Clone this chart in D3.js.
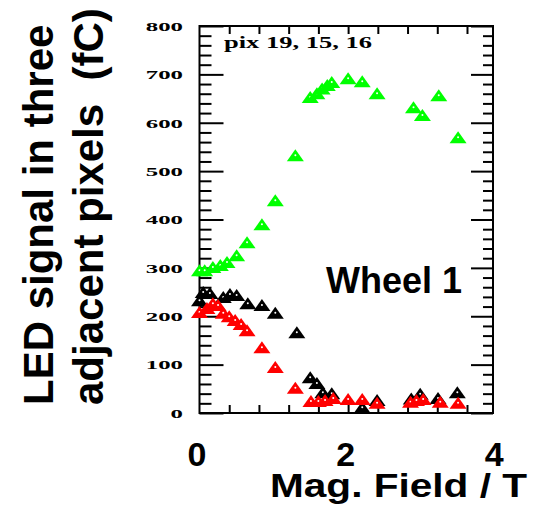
<!DOCTYPE html>
<html>
<head>
<meta charset="utf-8">
<script src="https://cdn.jsdelivr.net/npm/d3@7"></script>
<style>
  body { margin: 0; background: #fff; }
  svg { display: block; }
</style>
</head>
<body>
<script>
// data (field in T, signal in fC)
var greenField = [0.0, 0.07, 0.18, 0.28, 0.37, 0.5, 0.64, 0.84, 1.02, 1.29, 1.49, 1.58, 1.65, 1.72, 1.78, 2.0, 2.19, 2.39, 2.88, 3.0, 3.22, 3.48];
var greenSignal = [295, 295, 302, 306, 312, 326, 353, 390, 440, 533, 653, 661, 671, 678, 684, 692, 686, 661, 632, 616, 657, 570];

var blackField = [0.0, 0.05, 0.14, 0.32, 0.41, 0.5, 0.65, 0.84, 1.02, 1.31, 1.49, 1.58, 1.66, 1.78, 2.19, 2.39, 2.85, 2.97, 3.21, 3.47];
var blackSignal = [233, 250, 248, 240, 246, 244, 227, 223, 207, 167, 74, 62, 43, 41, 12, 27, 30, 40, 31, 43];

var redField = [0.0, 0.1, 0.18, 0.25, 0.32, 0.4, 0.48, 0.56, 0.64, 0.84, 1.02, 1.29, 1.5, 1.6, 1.69, 1.8, 2.0, 2.19, 2.39, 2.84, 2.92, 3.01, 3.24, 3.48];
var redSignal = [209, 217, 227, 223, 207, 200, 192, 184, 171, 136, 95, 52, 25, 25, 27, 31, 29, 29, 21, 23, 27, 29, 23, 21];

var yMajor = [0, 100, 200, 300, 400, 500, 600, 700, 800];
var xFrameTicks = [0.4, 0.8, 1.2, 1.6, 2.0, 2.4, 2.8, 3.2, 3.6];
var xLabels = [0, 2, 4];

// set the dimensions of the frame
var width = 535, height = 506;
var frame = {left: 199.5, right: 493, top: 26, bottom: 413};

var x = d3.scaleLinear().domain([0, 3.95]).range([frame.left, frame.right]);
var y = d3.scaleLinear().domain([0, 800]).range([frame.bottom, frame.top]);

var svg = d3.select("body").append("svg")
    .attr("width", width)
    .attr("height", height);

// minor y ticks every 20
var yMinor = d3.range(0, 801, 20).filter(function(d) { return d % 100 !== 0; });

function noDomain(g) { g.select(".domain").remove(); }

svg.append("g")
    .attr("transform", "translate(" + frame.left + ",0)")
    .call(d3.axisLeft(y).tickValues(yMinor).tickSize(-12).tickFormat(""))
    .call(noDomain);
svg.append("g")
    .attr("class", "ylab")
    .attr("transform", "translate(" + frame.left + ",0)")
    .call(d3.axisLeft(y).tickValues(yMajor).tickSize(-24).tickPadding(16.5))
    .call(noDomain);
svg.append("g")
    .attr("transform", "translate(" + frame.right + ",0)")
    .call(d3.axisRight(y).tickValues(yMinor).tickSize(-10).tickFormat(""))
    .call(noDomain);
svg.append("g")
    .attr("transform", "translate(" + frame.right + ",0)")
    .call(d3.axisRight(y).tickValues(yMajor).tickSize(-22).tickFormat(""))
    .call(noDomain);

// top and bottom ticks
svg.append("g")
    .attr("transform", "translate(0," + frame.top + ")")
    .call(d3.axisTop(x).tickValues(xFrameTicks).tickSize(-8).tickFormat(""))
    .call(noDomain);
svg.append("g")
    .attr("transform", "translate(0," + frame.bottom + ")")
    .call(d3.axisBottom(x).tickValues(xFrameTicks).tickSize(-8).tickFormat(""))
    .call(noDomain);

svg.selectAll(".tick line")
    .attr("stroke", "#000")
    .attr("stroke-width", 2);

// y tick labels: wide bold serif
svg.selectAll(".ylab .tick text")
    .attr("font-family", "Liberation Serif, serif")
    .attr("font-weight", "bold")
    .attr("font-size", 13.5)
    .attr("fill", "#000")
    .attr("textLength", function(d) { return 12.4 * String(d).length; })
    .attr("lengthAdjust", "spacingAndGlyphs");

// frame
svg.append("rect")
    .attr("x", frame.left)
    .attr("y", frame.top)
    .attr("width", frame.right - frame.left)
    .attr("height", frame.bottom - frame.top)
    .attr("fill", "none")
    .attr("stroke", "#000")
    .attr("stroke-width", 2);

// big x tick labels
var xl = svg.append("g")
    .attr("transform", "translate(-3," + 431 + ")")
    .call(d3.axisBottom(x).tickValues(xLabels).tickSize(0).tickPadding(0).tickFormat(d3.format("d")))
    .call(noDomain);
xl.selectAll("text")
    .attr("dy", null)
    .attr("y", 35)
    .attr("font-family", "Liberation Sans, Arial, sans-serif")
    .attr("font-weight", "bold")
    .attr("font-size", 34)
    .attr("fill", "#000");

// triangle markers
var tri = "M0,-6L8.5,6L-8.5,6Z";
function drawSeries(xs, ys, color) {
  var pts = xs.map(function(v, i) { return {f: v, s: ys[i]}; });
  var g = svg.append("g");
  var m = g.selectAll("g").data(pts).enter().append("g")
      .attr("transform", function(d) { return "translate(" + x(d.f) + "," + y(d.s) + ")"; });
  m.append("path").attr("d", tri).attr("fill", color);
  m.append("circle").attr("cy", 0).attr("r", 1).attr("fill", "#fff");
}
drawSeries(greenField, greenSignal, "#00ff00");
drawSeries(blackField, blackSignal, "#000000");
drawSeries(redField, redSignal, "#ff0000");

// labels
svg.append("text")
    .attr("x", 224).attr("y", 48)
    .attr("font-family", "Liberation Serif, serif")
    .attr("font-weight", "bold")
    .attr("font-size", 17)
    .attr("textLength", 148)
    .attr("lengthAdjust", "spacingAndGlyphs")
    .text("pix 19, 15, 16");

svg.append("text")
    .attr("x", 462).attr("y", 293)
    .attr("text-anchor", "end")
    .attr("font-family", "Liberation Sans, Arial, sans-serif")
    .attr("font-weight", "bold")
    .attr("font-size", 36)
    .text("Wheel 1");

svg.append("text")
    .attr("x", 270).attr("y", 497)
    .attr("font-family", "Liberation Sans, Arial, sans-serif")
    .attr("font-weight", "bold")
    .attr("font-size", 33)
    .attr("textLength", 257)
    .attr("lengthAdjust", "spacingAndGlyphs")
    .text("Mag. Field / T");

var yt = svg.append("text")
    .attr("transform", "rotate(-90)")
    .attr("font-family", "Liberation Sans, Arial, sans-serif")
    .attr("font-weight", "bold")
    .attr("font-size", 42);
yt.append("tspan").attr("x", -405).attr("y", 53).text("LED signal in three");
yt.append("tspan").attr("x", -405).attr("y", 103).text("adjacent pixels\u00a0 (fC)");
</script>
</body>
</html>
